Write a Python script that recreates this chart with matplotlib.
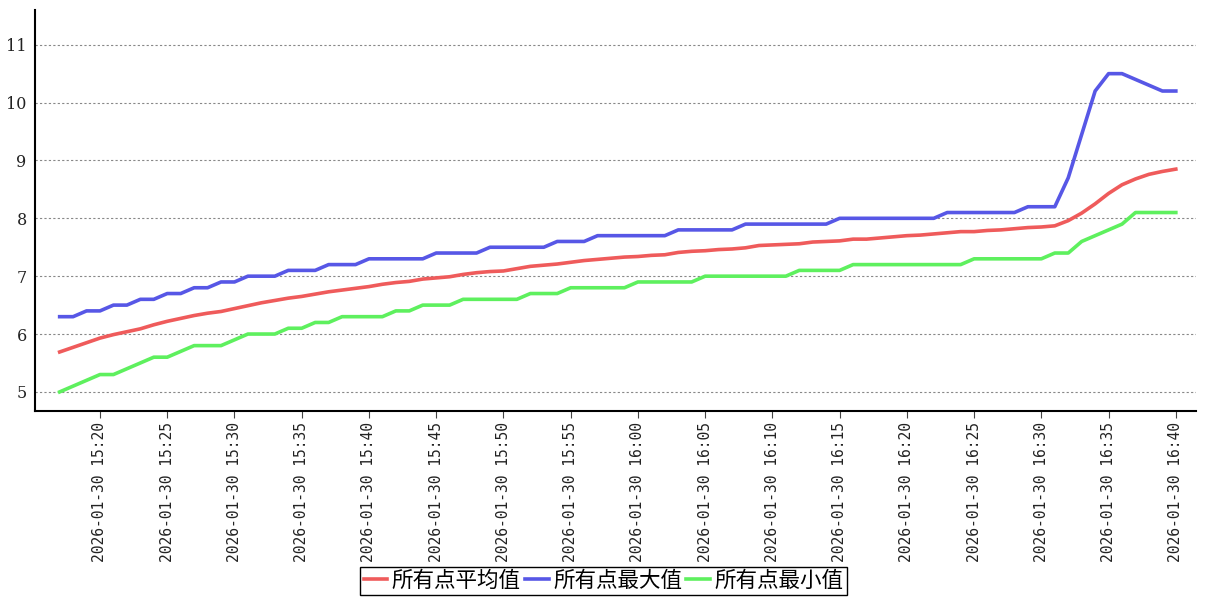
import matplotlib
matplotlib.use("Agg")
import matplotlib.pyplot as plt
import matplotlib.dates as mdates
import pandas as pd

times = pd.date_range("2026-01-30 15:17", "2026-01-30 16:40", freq="1min")

avg_vals = [5.69, 5.77, 5.85, 5.93, 5.99, 6.04, 6.09, 6.16, 6.22, 6.27,
            6.32, 6.36, 6.39, 6.44, 6.49, 6.54, 6.58, 6.62, 6.65, 6.69,
            6.73, 6.76, 6.79, 6.82, 6.86, 6.89, 6.91, 6.95, 6.97, 6.99,
            7.03, 7.06, 7.08, 7.09, 7.13, 7.17, 7.19, 7.21, 7.24, 7.27,
            7.29, 7.31, 7.33, 7.34, 7.36, 7.37, 7.41, 7.43, 7.44, 7.46,
            7.47, 7.49, 7.53, 7.54, 7.55, 7.56, 7.59, 7.60, 7.61, 7.64,
            7.64, 7.66, 7.68, 7.70, 7.71, 7.73, 7.75, 7.77, 7.77, 7.79,
            7.80, 7.82, 7.84, 7.85, 7.87, 7.96, 8.09, 8.25, 8.43, 8.58,
            8.68, 8.76, 8.81, 8.85]

max_vals = [6.3, 6.3, 6.4, 6.4, 6.5, 6.5, 6.6, 6.6, 6.7, 6.7,
            6.8, 6.8, 6.9, 6.9, 7.0, 7.0, 7.0, 7.1, 7.1, 7.1,
            7.2, 7.2, 7.2, 7.3, 7.3, 7.3, 7.3, 7.3, 7.4, 7.4,
            7.4, 7.4, 7.5, 7.5, 7.5, 7.5, 7.5, 7.6, 7.6, 7.6,
            7.7, 7.7, 7.7, 7.7, 7.7, 7.7, 7.8, 7.8, 7.8, 7.8,
            7.8, 7.9, 7.9, 7.9, 7.9, 7.9, 7.9, 7.9, 8.0, 8.0,
            8.0, 8.0, 8.0, 8.0, 8.0, 8.0, 8.1, 8.1, 8.1, 8.1,
            8.1, 8.1, 8.2, 8.2, 8.2, 8.7, 9.45, 10.2, 10.5, 10.5,
            10.4, 10.3, 10.2, 10.2]

min_vals = [5.0, 5.1, 5.2, 5.3, 5.3, 5.4, 5.5, 5.6, 5.6, 5.7,
            5.8, 5.8, 5.8, 5.9, 6.0, 6.0, 6.0, 6.1, 6.1, 6.2,
            6.2, 6.3, 6.3, 6.3, 6.3, 6.4, 6.4, 6.5, 6.5, 6.5,
            6.6, 6.6, 6.6, 6.6, 6.6, 6.7, 6.7, 6.7, 6.8, 6.8,
            6.8, 6.8, 6.8, 6.9, 6.9, 6.9, 6.9, 6.9, 7.0, 7.0,
            7.0, 7.0, 7.0, 7.0, 7.0, 7.1, 7.1, 7.1, 7.1, 7.2,
            7.2, 7.2, 7.2, 7.2, 7.2, 7.2, 7.2, 7.2, 7.3, 7.3,
            7.3, 7.3, 7.3, 7.3, 7.4, 7.4, 7.6, 7.7, 7.8, 7.9,
            8.1, 8.1, 8.1, 8.1]

series_names = ["所有点平均值", "所有点最大值", "所有点最小值"]
colors = ["#ef5b5b", "#5757e6", "#5ef05e"]
y_ticks = [5, 6, 7, 8, 9, 10, 11]

fig = plt.figure(figsize=(12.07, 6.0), dpi=100)
ax = fig.add_axes([35 / 1207, 1 - 411 / 600, (1196 - 35) / 1207, (411 - 10) / 600])

for vals, c, name in zip([avg_vals, max_vals, min_vals], colors, series_names):
    ax.plot(times, vals, color=c, lw=2.6, label=name, solid_joinstyle="round")

ax.set_ylim(4.67, 11.6)
ax.set_xlim(pd.Timestamp("2026-01-30 15:15:10"), pd.Timestamp("2026-01-30 16:41:30"))
ax.set_yticks(y_ticks)
ax.yaxis.grid(True, linestyle=(0, (2, 2)), color="#888888", lw=0.8)
ax.set_axisbelow(True)

ax.xaxis.set_major_locator(mdates.MinuteLocator(byminute=range(0, 60, 5)))
ax.xaxis.set_major_formatter(mdates.DateFormatter("%Y-%m-%d %H:%M"))
for lbl in ax.get_xticklabels():
    lbl.set_rotation(90)
    lbl.set_fontfamily("DejaVu Sans Mono")
    lbl.set_fontsize(10.5)
    lbl.set_color("#222222")
for lbl in ax.get_yticklabels():
    lbl.set_fontfamily("DejaVu Serif")
    lbl.set_fontsize(11.5)
    lbl.set_color("#222222")

ax.tick_params(axis="y", length=0, pad=6)
ax.tick_params(axis="x", length=5, width=0.8, color="#444444", pad=3)

for s in ["top", "right"]:
    ax.spines[s].set_visible(False)
ax.spines["left"].set_linewidth(1.5)
ax.spines["bottom"].set_linewidth(1.5)

fig.legend(loc="center", bbox_to_anchor=(0.5, 0.032), ncol=3, frameon=True,
           fancybox=False, edgecolor="black", framealpha=1,
           prop={"family": ["Noto Sans CJK SC", "DejaVu Sans"], "size": 15.5},
           handlelength=1.1, handletextpad=0.2, columnspacing=0.2,
           borderpad=0.15, borderaxespad=0)

fig.savefig("out.png", dpi=100)
